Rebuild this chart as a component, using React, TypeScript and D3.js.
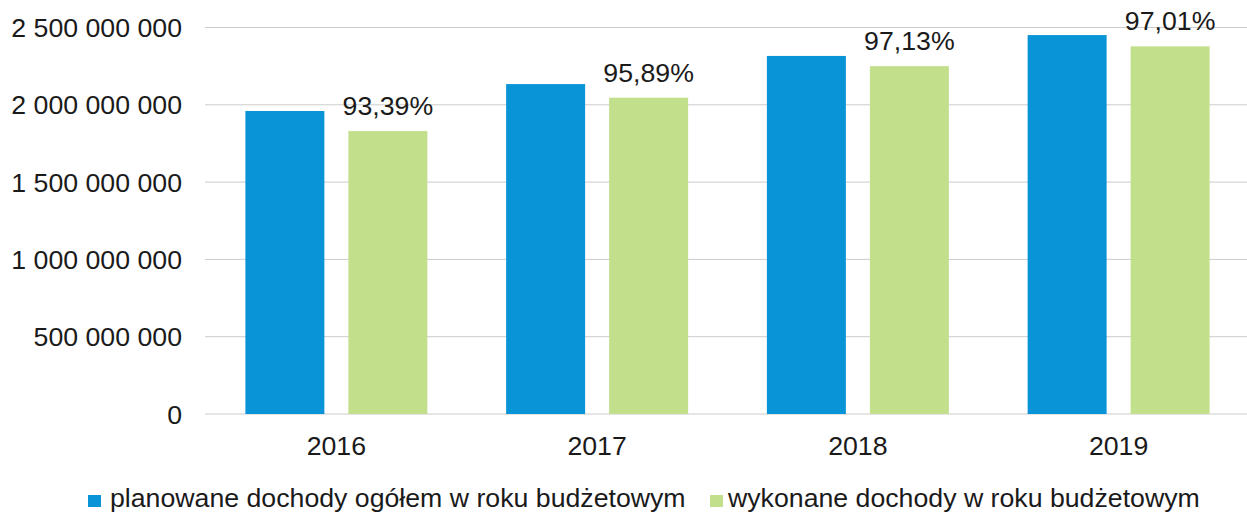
import React from 'react';
import * as d3 from 'd3';

const years = ['2016', '2017', '2018', '2019'];
const planned = [1960000000, 2134000000, 2316000000, 2451000000];
const executed = [1830000000, 2046000000, 2250000000, 2378000000];
const percentLabels = ['93,39%', '95,89%', '97,13%', '97,01%'];
const yTicks = [0, 500000000, 1000000000, 1500000000, 2000000000, 2500000000];
const seriesNames = [
  'planowane dochody ogółem w roku budżetowym',
  'wykonane dochody w roku budżetowym',
];

const W = 1247;
const H = 515;
const FONT = '"Liberation Sans", Arial, sans-serif';
const FS = 26.7;
const BLUE = '#0a94d8';
const GREEN = '#c2e08c';

const App = () => {
  const y = d3.scaleLinear().domain([0, 2500000000]).range([414, 27.5]);
  const x0 = d3.scaleBand().domain(years).range([206, 1249]).paddingInner(0.302).paddingOuter(0.151);
  const x1 = d3.scaleBand().domain(['p', 'e']).range([0, x0.bandwidth()]).paddingInner(0.233);

  // polish number format: spaces as thousands separator
  const fmt = (v: number) => d3.format(',')(v).replace(/,/g, ' ');

  return (
    <svg width={W} height={H} style={{ position: 'absolute', left: 0, top: 0, background: '#fff' }} fontFamily={FONT}>
      {/* gridlines + y labels */}
      {yTicks.map(t => (
        <g key={t}>
          <line x1={205} x2={W} y1={y(t)} y2={y(t)} stroke="#cccccc" strokeWidth={1} />
          <text x={182} y={y(t) + 9.5} textAnchor="end" fontSize={FS} fill="#1a1a1a">{fmt(t)}</text>
        </g>
      ))}

      {/* bars */}
      {years.map((yr, i) => {
        const bx = x0(yr)!;
        const gx = bx + x1('e')!;
        return (
          <g key={yr}>
            <rect x={bx + x1('p')!} y={y(planned[i])} width={x1.bandwidth()} height={y(0) - y(planned[i])} fill={BLUE} />
            <rect x={gx} y={y(executed[i])} width={x1.bandwidth()} height={y(0) - y(executed[i])} fill={GREEN} />
            <text x={gx + x1.bandwidth() / 2} y={y(executed[i]) - 16} textAnchor="middle" fontSize={FS} fill="#1a1a1a">{percentLabels[i]}</text>
            <text x={bx + x0.bandwidth() / 2} y={455} textAnchor="middle" fontSize={FS} fill="#1a1a1a">{yr}</text>
          </g>
        );
      })}

      {/* legend */}
      <rect x={88} y={495} width={13} height={12} fill={BLUE} />
      <text x={110} y={507} fontSize={FS} fill="#1a1a1a">{seriesNames[0]}</text>
      <rect x={710} y={495} width={13} height={12} fill={GREEN} />
      <text x={728} y={507} fontSize={FS} fill="#1a1a1a">{seriesNames[1]}</text>
    </svg>
  );
};

export default App;
